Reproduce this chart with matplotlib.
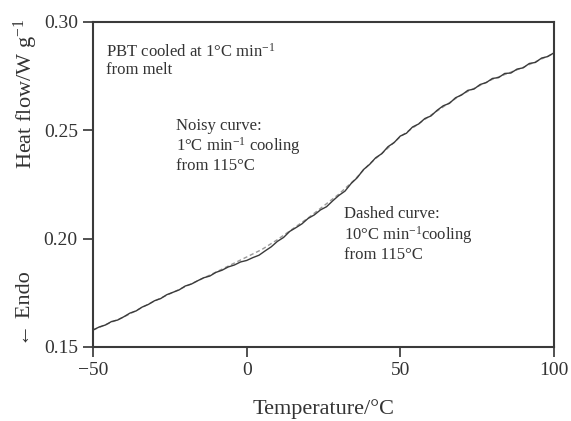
import matplotlib
matplotlib.use("Agg")
import matplotlib.pyplot as plt

plt.rcParams['font.family'] = ['Liberation Serif', 'DejaVu Serif']
plt.rcParams['mathtext.fontset'] = 'custom'
plt.rcParams['mathtext.rm'] = 'Liberation Serif'
plt.rcParams['mathtext.it'] = 'Liberation Serif:italic'
plt.rcParams['axes.unicode_minus'] = True

# Temperature (°C) for the noisy 1 °C/min curve
temp_noisy = list(range(-50, 101, 2))
heat_noisy = [
    0.1578, 0.1592, 0.1601, 0.1617, 0.1624, 0.1639, 0.1656, 0.1666, 0.1684, 0.1696,
    0.1713, 0.1723, 0.1741, 0.1752, 0.1763, 0.1781, 0.1790, 0.1805, 0.1819, 0.1827,
    0.1844, 0.1854, 0.1869, 0.1878, 0.1892, 0.1899, 0.1912, 0.1923, 0.1943, 0.1962,
    0.1987, 0.2005, 0.2033, 0.2050, 0.2068, 0.2093, 0.2109, 0.2132, 0.2147, 0.2174,
    0.2199, 0.2219, 0.2254, 0.2281, 0.2318, 0.2342, 0.2373, 0.2392, 0.2424, 0.2443,
    0.2473, 0.2486, 0.2515, 0.2529, 0.2554, 0.2566, 0.2592, 0.2613, 0.2624, 0.2650,
    0.2663, 0.2684, 0.2690, 0.2711, 0.2720, 0.2739, 0.2743, 0.2762, 0.2764, 0.2782,
    0.2788, 0.2808, 0.2813, 0.2833, 0.2840, 0.2857,
]

# Dashed 10 °C/min curve
temp_dashed = [-50, -40, -30, -20, -10, -5, 0, 5, 10, 15, 20, 25, 30, 35, 40, 45, 50,
               60, 70, 80, 90, 100]
heat_dashed = [0.1578, 0.1638, 0.1712, 0.1778, 0.1845, 0.1880, 0.1915, 0.1950, 0.1995,
               0.2045, 0.2095, 0.2150, 0.2205, 0.2270, 0.2345, 0.2405, 0.2470,
               0.2570, 0.2665, 0.2735, 0.2790, 0.2855]

x_ticks = [-50, 0, 50, 100]
y_ticks = [0.15, 0.20, 0.25, 0.30]

fig = plt.figure(figsize=(5.71, 4.21), dpi=100)
ax = fig.add_axes([0.163, 0.176, 0.807, 0.772])

tc = '#333333'
ax.plot(temp_dashed, heat_dashed, color='#9a9a9a', lw=1.0, ls=(0, (3, 2)), zorder=2)
ax.plot(temp_noisy, heat_noisy, color='#3a3a3a', lw=1.0, zorder=3)

ax.set_xlim(-50, 100)
ax.set_ylim(0.15, 0.30)
ax.set_xticks(x_ticks)
ax.set_yticks(y_ticks)
ax.set_xticklabels(['\u221250', '0', '50', '100'])
ax.set_yticklabels(['%.2f' % v for v in y_ticks])
ax.tick_params(direction='out', length=7, width=1.2, colors=tc, labelsize=14, pad=4)
for s in ax.spines.values():
    s.set_linewidth(1.5)
    s.set_color('#3a3a3a')

ax.set_xlabel('Temperature/°C', fontsize=16, color=tc, labelpad=14)

fig.text(0.045, 0.778, r'Heat flow/W g$^{-1}$', rotation=90, ha='center', va='center',
         fontsize=16, color=tc)
fig.text(0.045, 0.268, '\u2190 Endo', rotation=90, ha='center', va='center',
         fontsize=16, color=tc)

fs = 12
ax.text(0.028, 0.936, 'PBT cooled at 1°C min$^{-1}$\nfrom melt', transform=ax.transAxes,
        fontsize=fs, color=tc, va='top', ha='left', linespacing=1.1)
ax.text(0.181, 0.705, 'Noisy curve:\n1°C min$^{-1}$ cooling\nfrom 115°C', transform=ax.transAxes,
        fontsize=fs, color=tc, va='top', ha='left', linespacing=1.1)
ax.text(0.545, 0.432, 'Dashed curve:\n10°C min$^{-1}$cooling\nfrom 115°C', transform=ax.transAxes,
        fontsize=fs, color=tc, va='top', ha='left', linespacing=1.1)

fig.savefig('out.png', dpi=100)
